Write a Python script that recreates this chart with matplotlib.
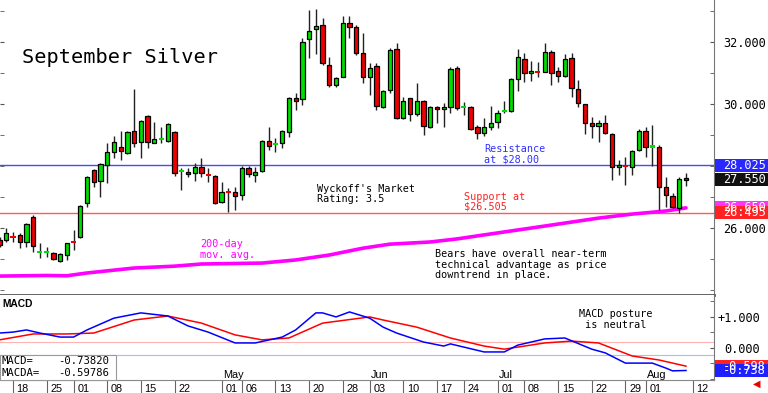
import numpy as np
import pandas as pd
import matplotlib
matplotlib.use('Agg')
import matplotlib.pyplot as plt
from matplotlib.patches import Rectangle
from matplotlib.transforms import blended_transform_factory

# trading days, Mar 14 - Aug 12 2024 (exchange holidays removed)
holidays = ['2024-03-29', '2024-05-27', '2024-06-19', '2024-07-04']
days = pd.bdate_range('2024-03-14', '2024-08-12')
days = days[~days.isin(pd.to_datetime(holidays))]

# daily OHLC, September silver ($/oz), Mar 14 .. Aug 9
opens = [25.61, 25.61, 25.72, 25.77, 25.55, 26.35, 25.22, 25.22, 25.19, 24.94,
         25.13, 25.56, 25.71, 26.81, 27.87, 27.52, 28.03, 28.45, 28.61, 28.42,
         29.13, 28.77, 29.61, 28.74, 28.86, 28.81, 29.10, 27.82, 27.81, 27.77,
         27.97, 27.72, 27.68, 26.84, 27.17, 27.16, 27.06, 27.94, 27.71, 27.84,
         28.81, 28.70, 28.74, 29.10, 30.19, 30.16, 32.10, 32.42, 32.55, 31.26,
         30.61, 30.87, 32.61, 32.48, 31.65, 30.87, 31.23, 29.90, 30.45, 31.77,
         29.55, 30.19, 29.68, 30.10, 29.26, 29.90, 29.84, 29.90, 31.16, 29.89,
         29.90, 29.26, 29.06, 29.26, 29.42, 29.76, 29.77, 30.81, 31.45, 31.00,
         31.04, 31.03, 31.68, 31.06, 30.90, 31.48, 30.48, 30.00, 29.39, 29.29,
         29.39, 29.03, 27.97, 28.01, 27.97, 28.52, 29.13, 28.61, 28.61, 27.32,
         27.03, 26.65, 27.62]
highs = [25.70, 26.00, 25.87, 25.84, 26.16, 26.42, 25.52, 25.39, 25.23, 25.19,
         25.52, 25.94, 26.74, 27.68, 27.90, 28.10, 28.74, 28.97, 29.13, 29.13,
         30.48, 29.48, 29.65, 29.42, 29.26, 29.39, 29.13, 27.94, 27.94, 28.10,
         28.26, 27.94, 27.70, 27.48, 27.29, 27.32, 28.00, 28.00, 27.97, 28.84,
         29.26, 28.90, 29.16, 30.23, 30.35, 32.13, 33.03, 33.06, 32.77, 31.52,
         30.87, 32.84, 32.84, 32.55, 32.29, 31.32, 31.32, 30.45, 31.81, 31.97,
         30.23, 30.19, 30.68, 30.13, 29.94, 29.94, 30.03, 31.19, 31.23, 30.06,
         29.94, 29.32, 29.55, 29.94, 29.81, 30.10, 30.84, 31.77, 31.65, 31.39,
         31.35, 31.97, 31.74, 31.19, 31.61, 31.65, 30.77, 30.00, 29.58, 29.48,
         29.65, 29.06, 28.19, 28.29, 28.52, 29.19, 29.26, 29.32, 28.68, 27.65,
         27.13, 27.65, 27.77]
lows = [25.39, 25.55, 25.55, 25.35, 25.39, 25.23, 25.03, 25.06, 24.97, 24.90,
        24.97, 25.29, 25.68, 26.68, 27.32, 27.00, 27.45, 28.26, 28.19, 28.39,
        28.61, 28.26, 28.58, 28.74, 28.74, 28.77, 27.68, 27.23, 27.65, 27.52,
        27.65, 27.48, 26.78, 26.81, 26.52, 26.58, 26.90, 27.65, 27.48, 27.81,
        28.52, 28.45, 28.58, 28.94, 29.81, 29.97, 31.48, 31.61, 31.26, 30.55,
        30.55, 30.87, 32.13, 31.58, 30.68, 30.29, 29.81, 29.87, 30.35, 29.52,
        29.52, 29.45, 29.61, 29.00, 29.23, 29.39, 29.26, 29.71, 29.81, 29.65,
        29.16, 28.87, 28.97, 29.16, 29.23, 29.71, 29.74, 30.42, 30.71, 30.74,
        30.87, 31.03, 30.61, 30.71, 30.87, 30.23, 29.90, 29.03, 28.90, 28.77,
        29.03, 27.55, 27.71, 27.39, 27.71, 28.48, 28.29, 28.00, 26.58, 26.68,
        26.65, 26.48, 27.35]
closes = [25.45, 25.84, 25.69, 25.55, 26.13, 25.42, 25.24, 25.24, 25.00, 25.16,
          25.52, 25.53, 26.71, 27.65, 27.48, 28.06, 28.45, 28.77, 28.48, 29.10,
          28.74, 29.45, 28.77, 28.87, 28.88, 29.35, 27.77, 27.84, 27.74, 27.97,
          27.77, 27.69, 26.81, 27.16, 27.14, 27.03, 27.94, 27.74, 27.81, 28.81,
          28.65, 28.72, 29.13, 30.19, 30.10, 32.00, 32.35, 32.52, 31.32, 30.61,
          30.84, 32.61, 32.48, 31.65, 30.87, 31.16, 29.94, 30.42, 31.74, 29.55,
          30.10, 29.68, 30.10, 29.29, 29.90, 29.84, 29.90, 31.13, 29.87, 29.91,
          29.19, 29.06, 29.26, 29.39, 29.71, 29.78, 30.81, 31.52, 31.00, 31.06,
          31.02, 31.68, 31.00, 30.90, 31.45, 30.52, 30.03, 29.39, 29.29, 29.39,
          29.06, 27.97, 28.03, 27.99, 28.48, 29.13, 28.61, 28.65, 27.32, 27.06,
          26.68, 27.58, 27.55]

# 200-day moving average (bar number, value)
ma_bar = [0, 7, 10, 13, 20, 26, 30, 39, 44, 49, 54, 58, 64, 68, 73, 79, 84, 89, 94, 99, 102]
ma_val = [24.45, 24.47, 24.46, 24.55, 24.71, 24.77, 24.84, 24.87, 24.97, 25.13, 25.35,
          25.48, 25.55, 25.65, 25.81, 26.00, 26.16, 26.32, 26.45, 26.55, 26.65]

# MACD (blue) and MACD average (red)
macd_bar = [0, 2, 4, 6, 9, 11, 13, 17, 21, 25, 28, 31, 35, 38, 42, 44, 47, 48, 50, 52,
            55, 57, 59, 63, 66, 67, 72, 75, 77, 81, 84, 88, 90, 93, 95, 97, 99, 100, 102]
macd_val = [0.47, 0.50, 0.57, 0.47, 0.34, 0.34, 0.57, 0.95, 1.12, 1.02, 0.70, 0.50, 0.15,
            0.15, 0.34, 0.57, 1.12, 1.12, 0.99, 1.15, 0.95, 0.66, 0.47, 0.18, 0.05, 0.12,
            -0.14, -0.14, 0.08, 0.28, 0.31, -0.05, -0.17, -0.50, -0.50, -0.50, -0.66,
            -0.75, -0.738]
sig_bar = [0, 5, 10, 14, 20, 25, 30, 35, 39, 43, 48, 55, 57, 62, 67, 72, 75, 81, 85, 89,
           94, 98, 102]
sig_val = [0.25, 0.44, 0.44, 0.47, 0.89, 1.02, 0.79, 0.41, 0.25, 0.31, 0.79, 0.99, 0.89,
           0.66, 0.31, 0.05, -0.05, 0.15, 0.21, 0.15, -0.27, -0.40, -0.598]

resistance = 28.025
support = 26.495

tick_days = ['2024-03-18', '2024-03-25', '2024-04-01', '2024-04-08', '2024-04-15',
             '2024-04-22', '2024-05-01', '2024-05-06', '2024-05-13', '2024-05-20',
             '2024-05-28', '2024-06-03', '2024-06-10', '2024-06-17', '2024-06-24',
             '2024-07-01', '2024-07-08', '2024-07-15', '2024-07-22', '2024-07-29',
             '2024-08-01', '2024-08-12']
month_days = ['2024-05-01', '2024-06-03', '2024-07-01', '2024-08-01']
month_names = ['May', 'Jun', 'Jul', 'Aug']

MONO = 'DejaVu Sans Mono'
SANS = 'Liberation Sans'
W, H = 768, 393

fig = plt.figure(figsize=(7.68, 3.93), dpi=100)
ax = fig.add_axes([0, 1 - 295 / H, 714 / W, 295 / H])
ax2 = fig.add_axes([0, 1 - 380 / H, 714 / W, 85 / H])

x = np.arange(len(opens))
o = np.array(opens); c = np.array(closes)
up = c >= o
cols = np.where(up, '#00dd00', '#ee0000')
lo = np.minimum(o, c); hi = np.maximum(o, c)
doji = (hi - lo) < 0.05

# candles
ax.vlines(x, lows, highs, color='#222222', lw=1, zorder=3)
ax.bar(x[~doji], (hi - lo)[~doji], bottom=lo[~doji], width=0.64, color=cols[~doji],
       edgecolor='black', lw=0.9, zorder=4)
ax.bar(x[doji], 0.07, bottom=((o + c) / 2 - 0.035)[doji], width=0.75, color=cols[doji],
       lw=0, zorder=4)

ax.axhline(resistance, color='#4848ff', lw=1, zorder=1)
ax.axhline(support, color='#ff5a5a', lw=1, zorder=1)
ax.plot(ma_bar, ma_val, color='#ff00ff', lw=2.6, solid_capstyle='round', zorder=2)

ax.set_xlim(0.07, 106.16)
ax.set_ylim(23.84, 33.355)
ax2.set_xlim(0.07, 106.16)
ax2.set_ylim(-1.045, 1.697)

# price axis
ax.set_xticks([])
ax.yaxis.tick_right()
ax.set_yticks([26, 30, 32])
ax.set_yticklabels(['26.000', '30.000', '32.000'], family=MONO, fontsize=8.6)
ax.set_yticks(np.arange(24, 34), minor=True)
ax.tick_params(axis='y', which='both', direction='in', length=3, left=True, right=True,
               color='#555555', pad=6.5)
for s in ['top', 'left']:
    ax.spines[s].set_visible(False)
ax.spines['bottom'].set_color('#555555')
ax.spines['bottom'].set_linewidth(2)
ax.spines['right'].set_color('#777777')

# MACD panel
ax2.axhline(0.18, color='#ffb4b4', lw=0.8)
ax2.axhline(-0.24, color='#b4b4ff', lw=0.8)
ax2.plot(sig_bar, sig_val, color='#ff0000', lw=1.1)
ax2.plot(macd_bar, macd_val, color='#0000ff', lw=1.1)
ax2.yaxis.tick_right()
ax2.set_yticks([0, 1])
ax2.set_yticklabels(['0.000', '+1.000'], family=MONO, fontsize=8.6)
for lab in ax2.get_yticklabels():
    lab.set_ha('right')
ax2.set_yticks(np.arange(-1, 1.6, 0.5), minor=True)
ax2.tick_params(axis='y', which='both', direction='in', length=3, color='#555555', pad=33)
for s in ['top', 'left']:
    ax2.spines[s].set_visible(False)
ax2.spines['bottom'].set_color('#888888')
ax2.spines['right'].set_color('#777777')

# date axis
day_pos = {d.strftime('%Y-%m-%d'): i for i, d in enumerate(days)}
tpos = [day_pos[d] for d in tick_days]
ax2.set_xticks(tpos)
ax2.set_xticklabels([''] * len(tpos))
ax2.tick_params(axis='x', direction='out', length=9.4, color='#666666', width=0.8)
for d, p in zip(tick_days, tpos):
    ax2.annotate(d[-2:], xy=(p, 0), xycoords=('data', 'axes fraction'), xytext=(2.6, -8.6),
                 textcoords='offset points', ha='left', va='baseline', family=SANS,
                 fontsize=7.8, annotation_clip=False)
for d, m in zip(month_days, month_names):
    ax2.annotate(m, xy=(day_pos[d], 0), xycoords=('data', 'axes fraction'), xytext=(0.8, 1.6),
                 textcoords='offset points', ha='left', va='baseline', family=SANS,
                 fontsize=7.8)


def tag(a, y, txt, bg, fg='white'):
    tr = blended_transform_factory(a.transAxes, a.transData)
    a.add_patch(Rectangle((715 / 714, y - 0.21), 53 / 714, 0.42, transform=tr, facecolor=bg,
                          edgecolor='none', clip_on=False, zorder=6))
    a.text(723 / 714, y, txt, transform=tr, color=fg, fontsize=8.6, family=MONO,
           va='center', ha='left', zorder=7, clip_on=False)


tag(ax, resistance, '28.025', '#2828ff')
tag(ax, closes[-1], '%.3f' % closes[-1], '#111111')
tag(ax, ma_val[-1], '26.650', '#ff33ff')
tag(ax, support, '26.495', '#ff2222')
tag(ax2, sig_val[-1], '-0.598', '#ff2222')
tag(ax2, macd_val[-1], '-0.738', '#2020ff')


def note(xp, yp, lines, color='black', step=10.5, size=7.3):
    for k, t in enumerate(lines):
        fig.text(xp / W, 1 - (yp + k * step) / H, t, color=color, family=MONO,
                 fontsize=size, va='baseline', ha='left')


fig.text(22 / W, 1 - 63 / H, 'September Silver', family=MONO, fontsize=14.6, va='baseline')
note(317, 192, ["Wyckoff's Market", "Rating: 3.5"])
note(484, 152, ['Resistance', 'at $28.00'], color='#3030ff', step=11)
note(464, 200, ['Support at', '$26.505'], color='#ff2020', step=9.5)
note(435, 257, ['Bears have overall near-term', 'technical advantage as price',
                'downtrend in place.'])
note(200, 247, ['200-day', 'mov. avg.'], color='#ff00ff')
note(579, 317, ['MACD posture', ' is neutral'])

fig.text(2 / W, 1 - 307 / H, 'MACD', family=SANS, fontweight='bold', fontsize=7.4,
         va='baseline')
fig.add_artist(Rectangle((0, 1 - 380 / H), 116 / W, 25 / H, transform=fig.transFigure,
                         facecolor='white', edgecolor='#999999', lw=0.8))
fig.text(1 / W, 1 - 364 / H, 'MACD=', family=MONO, fontsize=7.6, va='baseline')
fig.text(1 / W, 1 - 376 / H, 'MACDA=', family=MONO, fontsize=7.6, va='baseline')
fig.text(109 / W, 1 - 364 / H, '%.5f' % -0.73820, family=MONO, fontsize=7.6,
         va='baseline', ha='right')
fig.text(109 / W, 1 - 376 / H, '%.5f' % -0.59786, family=MONO, fontsize=7.6,
         va='baseline', ha='right')
fig.text(757 / W, 1 - 384 / H, '\u25c0', color='#ee0000', fontsize=7, ha='center',
         va='center')

fig.savefig('out.png', dpi=100)
